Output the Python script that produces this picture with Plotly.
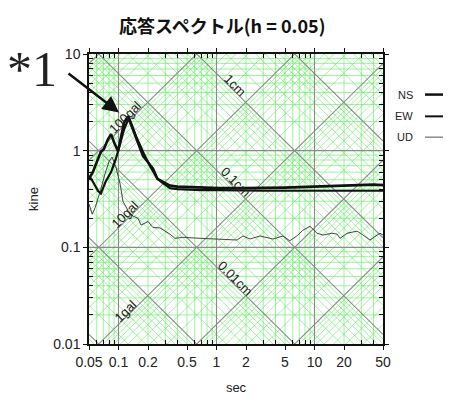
import math
import numpy as np
import plotly.graph_objects as go

# ---------------- data ----------------
ns_period = [0.05, 0.0547, 0.0617, 0.066, 0.071, 0.078, 0.084, 0.09, 0.099, 0.106, 0.114,
             0.125, 0.14, 0.158, 0.17, 0.178, 0.2, 0.225, 0.25, 0.3, 0.335, 0.4, 0.53, 0.7,
             1.06, 2.0, 3.0, 5.0, 7.0, 10.0, 15.0, 20.0, 30.0, 40.0, 50.0]
ns_vel = [0.51, 0.60, 0.82, 0.97, 1.04, 1.31, 1.48, 1.22, 0.99, 1.41, 1.96,
          2.26, 1.66, 1.22, 0.99, 0.88, 0.76, 0.65, 0.51, 0.46, 0.435, 0.425, 0.42, 0.415,
          0.41, 0.41, 0.41, 0.415, 0.42, 0.425, 0.43, 0.44, 0.445, 0.445, 0.44]

ew_period = [0.05, 0.0547, 0.0617, 0.066, 0.074, 0.084, 0.094, 0.1, 0.114, 0.128,
             0.151, 0.178, 0.21, 0.25, 0.3, 0.335, 0.4, 0.53, 0.7, 1.06, 2.0, 3.0, 5.0,
             7.0, 10.0, 15.0, 20.0, 30.0, 40.0, 50.0]
ew_vel = [0.55, 0.48, 0.385, 0.36, 0.48, 0.60, 0.82, 1.04, 1.66, 2.2,
          1.41, 0.97, 0.69, 0.51, 0.44, 0.41, 0.40, 0.395, 0.39, 0.39, 0.385, 0.385, 0.385,
          0.385, 0.39, 0.39, 0.39, 0.39, 0.385, 0.385]

ud_period = [0.05, 0.054, 0.058, 0.062, 0.066, 0.073, 0.08, 0.086, 0.094, 0.104, 0.111,
             0.125, 0.141, 0.158, 0.17, 0.2, 0.225, 0.265, 0.335, 0.377, 0.455, 0.68,
             1.01, 1.62, 1.86, 2.2, 2.78, 3.77, 4.77, 5.6, 6.6, 7.6, 9.0, 10.6, 12.2,
             15.1, 17.0, 18.2, 21.5, 27.2, 31.3, 36.8, 46.6, 50.0]
ud_vel = [0.28, 0.22, 0.26, 0.32, 0.40, 0.58, 0.77, 0.86, 0.68, 0.45, 0.30,
          0.24, 0.21, 0.20, 0.17, 0.185, 0.16, 0.159, 0.137, 0.124, 0.127, 0.124,
          0.122, 0.119, 0.131, 0.122, 0.131, 0.122, 0.131, 0.117, 0.131, 0.150, 0.165, 0.140, 0.134,
          0.140, 0.137, 0.124, 0.140, 0.147, 0.134, 0.119, 0.140, 0.134]

series_names = ["NS", "EW", "UD"]

x_tick_vals = [0.05, 0.1, 0.2, 0.5, 1, 2, 5, 10, 20, 50]
x_tick_text = ["0.05", "0.1", "0.2", "0.5", "1", "2", "5", "10", "20", "50"]
y_tick_vals = [0.01, 0.1, 1, 10]
y_tick_text = ["0.01", "0.1", "1", "10"]

disp_labels = [(1.0, "1cm"), (0.1, "0.1cm"), (0.01, "0.01cm")]
acc_labels = [(100.0, "100gal"), (10.0, "10gal"), (1.0, "1gal")]

# ---------------- geometry ----------------
W, H = 449, 405
L, R, T, B = 89, 66, 54, 58
PW, PH = W - L - R, H - T - B
XMIN, XMAX = 0.05, 50.0
YMIN, YMAX = 0.01, 10.0


def px(xp):
    return (xp - L) / PW


def py(yp):
    return (H - B - yp) / PH


GREEN = "rgba(95,235,95,0.6)"
GREY = "#8a8a8a"

fig = go.Figure()

# minor values
minor_x = [m * 10 ** k for k in range(-2, 2) for m in range(2, 10) if XMIN < m * 10 ** k < XMAX]
minor_y = [m * 10 ** k for k in range(-2, 1) for m in range(2, 10) if YMIN < m * 10 ** k < YMAX]
major_x = [0.1, 1, 10]
major_y = [0.1, 1]

gx, gy = [], []
kx, ky = [], []
for v in minor_x:
    gx += [v, v, None]; gy += [YMIN, YMAX, None]
for v in minor_y:
    gx += [XMIN, XMAX, None]; gy += [v, v, None]
for v in major_x:
    kx += [v, v, None]; ky += [YMIN, YMAX, None]
for v in major_y:
    kx += [XMIN, XMAX, None]; ky += [v, v, None]

# displacement lines V = 2*pi*D/T ; acceleration lines V = A*T/(2*pi)
for k in range(-5, 3):
    for m in range(1, 10):
        d = m * 10.0 ** k
        xs = [XMIN, XMAX, None]
        ys = [2 * math.pi * d / XMIN, 2 * math.pi * d / XMAX, None]
        if m == 1:
            kx += xs; ky += ys
        else:
            gx += xs; gy += ys
for k in range(-4, 4):
    for m in range(1, 10):
        a = m * 10.0 ** k
        xs = [XMIN, XMAX, None]
        ys = [a * XMIN / (2 * math.pi), a * XMAX / (2 * math.pi), None]
        if m == 1:
            kx += xs; ky += ys
        else:
            gx += xs; gy += ys

fig.add_trace(go.Scatter(x=gx, y=gy, mode="lines", line=dict(color=GREEN, width=1),
                         hoverinfo="skip", showlegend=False))
fig.add_trace(go.Scatter(x=kx, y=ky, mode="lines", line=dict(color=GREY, width=1.1),
                         hoverinfo="skip", showlegend=False))

# data
fig.add_trace(go.Scatter(x=ud_period, y=ud_vel, mode="lines", name="UD",
                         line=dict(color="#444444", width=1), showlegend=False))
fig.add_trace(go.Scatter(x=ew_period, y=ew_vel, mode="lines", name="EW",
                         line=dict(color="#111111", width=2.2), showlegend=False))
fig.add_trace(go.Scatter(x=ns_period, y=ns_vel, mode="lines", name="NS",
                         line=dict(color="#111111", width=2.6), showlegend=False))

annotations = []
# diagonal labels
for d, txt in disp_labels:
    tt = 1.45
    vv = 2 * math.pi * d / tt
    annotations.append(dict(x=math.log10(tt), y=math.log10(vv), xref="x", yref="y",
                            text=txt, showarrow=False, textangle=45, xshift=3, yshift=4,
                            font=dict(family="Liberation Sans", size=13, color="#222")))
for a, txt in acc_labels:
    tt = 0.125
    vv = a * tt / (2 * math.pi)
    annotations.append(dict(x=math.log10(tt), y=math.log10(vv), xref="x", yref="y",
                            text=txt, showarrow=False, textangle=-45, xshift=-3, yshift=4,
                            font=dict(family="Liberation Sans", size=13, color="#222")))

# *1 marker and arrow
annotations.append(dict(x=px(32), y=py(69), xref="paper", yref="paper", text="*1",
                        showarrow=False, xanchor="center", yanchor="middle",
                        font=dict(family="Liberation Serif", size=50, color="#222")))
annotations.append(dict(x=px(119), y=py(113), xref="paper", yref="paper", text="",
                        showarrow=True, ax=67 - 119, ay=73 - 113, axref="pixel", ayref="pixel",
                        arrowhead=2, arrowsize=1.3, arrowwidth=2.5, arrowcolor="#111",
                        standoff=0))

# legend (text left, line sample right)
legend_rows = [(95, 2.5, "#111111"), (117, 2.0, "#111111"), (138, 1.0, "#555555")]
shapes = []
for name, (yrow, lw, col) in zip(series_names, legend_rows):
    annotations.append(dict(x=px(415), y=py(yrow), xref="paper", yref="paper", text=name,
                            showarrow=False, xanchor="right", yanchor="middle",
                            font=dict(family="Liberation Sans", size=11, color="#222")))
    shapes.append(dict(type="line", xref="paper", yref="paper", x0=px(425), x1=px(443),
                       y0=py(yrow), y1=py(yrow), line=dict(color=col, width=lw)))

fig.update_layout(
    width=W, height=H,
    margin=dict(l=L, r=R, t=T, b=B),
    paper_bgcolor="white", plot_bgcolor="white",
    title=dict(text="<b>応答スペクトル(h = 0.05)</b>", x=0.495, xanchor="center",
               y=1 - 27 / H, yanchor="middle",
               font=dict(family="Noto Sans CJK JP", size=18, color="#111")),
    annotations=annotations,
    shapes=shapes,
    showlegend=False,
)

axis_common = dict(
    type="log", showgrid=False, zeroline=False,
    showline=True, linecolor="#111", linewidth=1.5, mirror="allticks",
    ticks="outside", ticklen=4, tickwidth=1, tickcolor="#111",
    tickfont=dict(family="Liberation Sans", size=14, color="#222"),
)

fig.update_xaxes(
    range=[math.log10(XMIN), math.log10(XMAX)],
    tickmode="array", tickvals=x_tick_vals, ticktext=x_tick_text,
    minor=dict(tickmode="array",
               tickvals=[v for v in minor_x if v not in x_tick_vals],
               ticks="inside", ticklen=4, tickcolor="#111", showgrid=False),
    title=dict(text="sec", font=dict(family="Liberation Sans", size=13, color="#222"), standoff=14),
    **axis_common,
)
fig.update_yaxes(
    range=[math.log10(YMIN), math.log10(YMAX)],
    tickmode="array", tickvals=y_tick_vals, ticktext=y_tick_text,
    minor=dict(tickmode="array", tickvals=minor_y,
               ticks="inside", ticklen=4, tickcolor="#111", showgrid=False),
    title=dict(text="kine", font=dict(family="Liberation Sans", size=13, color="#222"), standoff=12),
    **axis_common,
)

fig.write_html("out.html")
